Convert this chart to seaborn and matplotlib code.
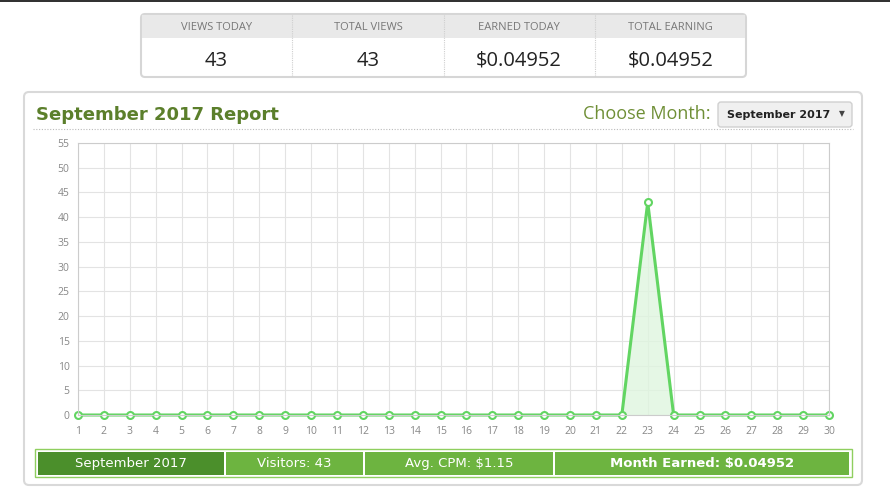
import numpy as np
import matplotlib
matplotlib.use("Agg")
import matplotlib.pyplot as plt
import seaborn as sns
from matplotlib.patches import FancyBboxPatch, Rectangle

# data
days = list(range(1, 31))
views = [0, 0, 0, 0, 0, 0, 0, 0, 0, 0, 0, 0, 0, 0, 0,
         0, 0, 0, 0, 0, 0, 0, 43, 0, 0, 0, 0, 0, 0, 0]
y_ticks = list(range(0, 60, 5))

stat_labels = ["VIEWS TODAY", "TOTAL VIEWS", "EARNED TODAY", "TOTAL EARNING"]
stat_values = ["43", "43", "$0.04952", "$0.04952"]

report_title = "September 2017 Report"
month_label = "September 2017"
footer_texts = ["September 2017", "Visitors: 43", "Avg. CPM: $1.15", "Month Earned: $0.04952"]

sns.set_theme(style="whitegrid")
plt.rcParams['font.family'] = ['Open Sans', 'DejaVu Sans']

W, H = 890, 492
fig = plt.figure(figsize=(W / 100, H / 100), dpi=100)
fig.patch.set_facecolor("white")

# background axes in pixel coordinates
bg = fig.add_axes([0, 0, 1, 1], zorder=0)
bg.set_xlim(0, W)
bg.set_ylim(H, 0)
bg.axis("off")

bg.add_patch(Rectangle((0, 0), W, 1.5, color="#333333", lw=0))

# stats box
bx0, bx1, by0, by1, bmid = 141, 746, 14, 77, 38
bg.add_patch(FancyBboxPatch((bx0, by0), bx1 - bx0, by1 - by0, boxstyle="round,pad=0,rounding_size=4",
                            fc="white", ec="#d6d6d6", lw=1.5))
bg.add_patch(Rectangle((bx0 + 1, by0 + 1), bx1 - bx0 - 2, bmid - by0 - 1, fc="#e9e9e9", ec="none"))
cw = (bx1 - bx0) / 4
for i, (lab, val) in enumerate(zip(stat_labels, stat_values)):
    cx = bx0 + cw * (i + 0.5)
    bg.text(cx, 27.5, lab, ha="center", va="center", fontsize=8, color="#777777")
    bg.text(cx, 60.5, val, ha="center", va="center", fontsize=14.5, color="#222222")
    if i > 0:
        bg.plot([bx0 + cw * i] * 2, [by0 + 1, by1 - 1], color="#cfcfcf", lw=0.8, ls=(0, (1, 1)))

# main panel
bg.add_patch(FancyBboxPatch((24, 92), 838, 393, boxstyle="round,pad=0,rounding_size=5",
                            fc="white", ec="#d9d9d9", lw=1.5))
bg.text(36, 114.5, report_title, ha="left", va="center", fontsize=13, fontweight="bold",
        color="#5b7f2b", family=["DejaVu Sans"])
bg.plot([33, 853], [129, 129], color="#bbbbbb", lw=0.8, ls=(0, (1, 1.5)))
bg.text(711, 114, "Choose Month:", ha="right", va="center", fontsize=13, color="#6f8f36")
bg.add_patch(FancyBboxPatch((718, 102), 134, 25, boxstyle="round,pad=0,rounding_size=3",
                            fc="#f0f0f0", ec="#d0d0d0", lw=1))
bg.text(727, 115, month_label, ha="left", va="center", fontsize=8, fontweight="bold",
        color="#222222", family=["Liberation Sans Narrow", "DejaVu Sans"])
bg.text(842, 114, "▼", ha="center", va="center", fontsize=5.5, color="#444444", family=["DejaVu Sans"])

# footer bar
fx0, fx1, fy0, fy1 = 35, 852, 449, 477
bg.add_patch(Rectangle((fx0, fy0), fx1 - fx0, fy1 - fy0, fc="white", ec="#8fcf5f", lw=1))
edges = [37, 225, 364, 554, 850]
fills = ["#4b8f2b", "#6db440", "#6db440", "#6db440"]
for i, txt in enumerate(footer_texts):
    bg.add_patch(Rectangle((edges[i] + 0.8, fy0 + 2.5), edges[i + 1] - edges[i] - 1.6, fy1 - fy0 - 5,
                           fc=fills[i], ec="none"))
    bg.text((edges[i] + edges[i + 1]) / 2, 463.5, txt, ha="center", va="center", fontsize=9.5,
            color="white", fontweight="bold" if i == 3 else "normal",
            family=["Liberation Sans Narrow", "DejaVu Sans"])

# chart axes
px0, px1, py_top, py_bot = 78, 829, 143, 415
ax = fig.add_axes([px0 / W, 1 - py_bot / H, (px1 - px0) / W, (py_bot - py_top) / H], zorder=1)
ax.set_facecolor("white")

line_color = "#62d562"
ax.fill_between(days, views, 0, color="#dff5df", alpha=0.8, lw=0)
sns.lineplot(x=days, y=views, ax=ax, color=line_color, lw=2.2, marker="o", markersize=5,
             markerfacecolor="white", markeredgecolor=line_color, markeredgewidth=1.5, clip_on=False)

ax.set_xlim(1, 30)
ax.set_ylim(0, 55)
ax.set_xticks(days)
ax.set_yticks(y_ticks)
ax.tick_params(axis="both", labelsize=7.5, colors="#888888", length=0)
ax.tick_params(axis="x", pad=8)
ax.tick_params(axis="y", pad=6)
ax.grid(True, color="#e3e3e3", lw=0.8)
for s in ax.spines.values():
    s.set_color("#cccccc")
    s.set_linewidth(0.8)
ax.set_xlabel("")
ax.set_ylabel("")

fig.savefig("out.png", dpi=100)
